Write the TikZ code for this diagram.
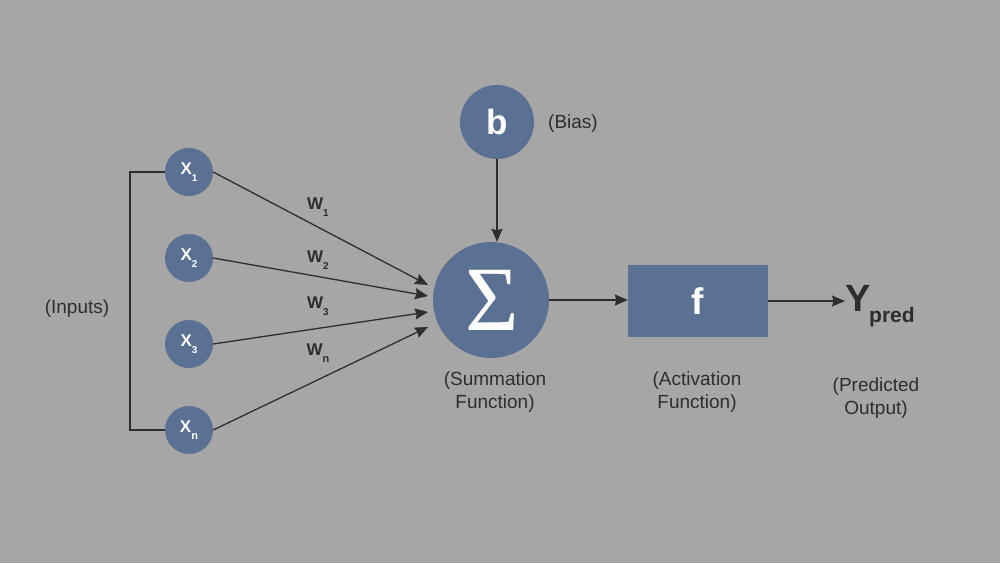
\documentclass[tikz,border=0pt]{standalone}
\usepackage{fontspec}
\setmainfont{Liberation Sans}
\newfontfamily\sigfont{Liberation Serif}
\usetikzlibrary{arrows.meta}
\definecolor{bg}{HTML}{A6A6A6}
\definecolor{nodeblue}{HTML}{5B7194}
\definecolor{ink}{HTML}{2E2E2E}
\newcommand{\lowsub}[2]{\raisebox{-#2pt}{#1}}
\tikzset{
  unit/.style={circle, fill=nodeblue, draw=none, inner sep=0pt},
  inp/.style={unit, minimum size=48pt, text=white, font=\fontsize{17}{17}\selectfont\bfseries},
  lbl/.style={text=ink, font=\fontsize{19}{23}\selectfont, align=center},
  wlbl/.style={text=ink, font=\fontsize{17}{17}\selectfont\bfseries},
  conn/.style={draw=ink, line width=1.3pt},
  arr/.style={conn, -{Stealth[length=13pt,width=11pt,inset=1.5pt]}}
}
\begin{document}
\begin{tikzpicture}[x=1pt,y=-1pt]
\fill[bg] (0,0) rectangle (1000,563);
\useasboundingbox (0,0) rectangle (1000,563);

% inputs
\node[inp] (x1) at (189,172) {X\lowsub{\fontsize{10}{10}\selectfont 1}{7}};
\node[inp] (x2) at (189,258) {X\lowsub{\fontsize{10}{10}\selectfont 2}{7}};
\node[inp] (x3) at (189,344) {X\lowsub{\fontsize{10}{10}\selectfont 3}{7}};
\node[inp] (xn) at (189,430) {X\lowsub{\fontsize{11}{11}\selectfont n}{7}};

% bracket
\coordinate (bt) at (130,172);
\coordinate (bb) at (130,430);
\draw[conn] (x1.west) -- (bt) -- (bb) -- (xn.west);
\node[lbl] (inputs) at (77,309) {(Inputs)};

% summation
\node[unit, minimum size=116pt] (sum) at (491,300) {};
\node[text=white, font=\fontsize{92}{92}\sigfont, inner sep=0pt] (sig) at (492,300) {Σ};

% bias
\node[unit, minimum size=74pt, text=white, font=\fontsize{35}{35}\selectfont\bfseries] (b) at (497,122) {b};
\node[lbl] (bias) at (573,124) {(Bias)};
\draw[arr] (b.south) -- (sum.north -| b.south);

% weights arrows
\coordinate (t1) at (428,285);
\coordinate (t2) at (428,296);
\coordinate (t3) at (428,312);
\coordinate (t4) at (428,327);
\draw[arr] (x1.east) -- (t1);
\draw[arr] (x2.east) -- (t2);
\draw[arr] (x3.east) -- (t3);
\draw[arr] (xn.east) -- (t4);

\node[wlbl] (w1) at (318,207) {W\lowsub{\fontsize{10}{10}\selectfont 1}{7}};
\node[wlbl] (w2) at (318,260) {W\lowsub{\fontsize{10}{10}\selectfont 2}{7}};
\node[wlbl] (w3) at (318,306) {W\lowsub{\fontsize{10}{10}\selectfont 3}{7}};
\node[wlbl] (wn) at (318,353) {W\lowsub{\fontsize{11}{11}\selectfont n}{7}};

% activation
\node[fill=nodeblue, minimum width=140pt, minimum height=72pt, inner sep=0pt, text=white, font=\fontsize{37}{37}\selectfont\bfseries] (f) at (698,301) {f};
\draw[arr] (sum.east) -- (f.west |- sum.east);

% output
\node[text=ink, font=\fontsize{38}{38}\selectfont\bfseries, inner sep=0pt, anchor=west] (y) at (845,298) {Y};
\node[text=ink, font=\fontsize{21}{21}\selectfont\bfseries, inner sep=0pt, anchor=west] (pred) at (869,317) {pred};
\draw[arr] (f.east) -- (y.west |- f.east);

\node[lbl] (sumlbl) at (495,392) {(Summation\\Function)};
\node[lbl] (actlbl) at (697,392) {(Activation\\Function)};
\node[lbl] (outlbl) at (876,398) {(Predicted\\Output)};
\end{tikzpicture}
\end{document}
